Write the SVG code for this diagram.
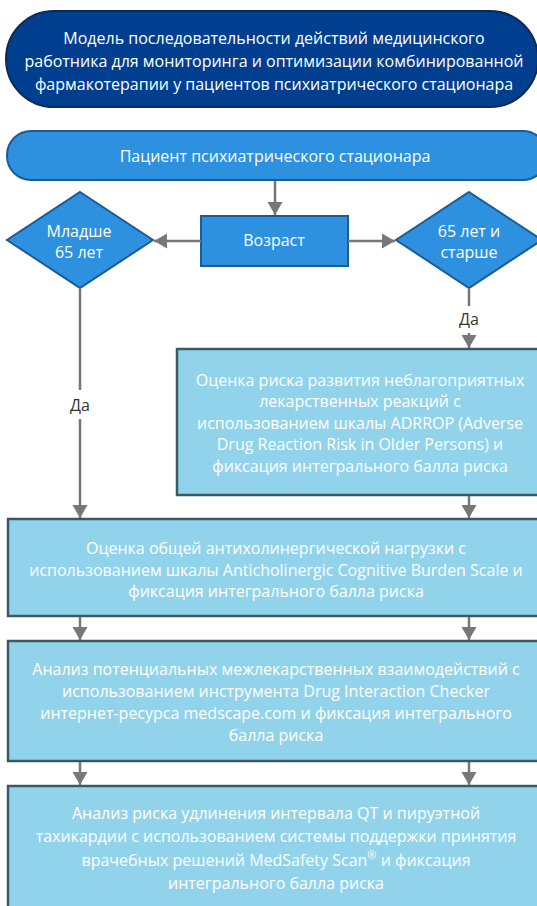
<svg xmlns="http://www.w3.org/2000/svg" width="537" height="906" viewBox="0 0 537 906">
<style>
text{font-family:"Open Sans","Noto Sans","DejaVu Sans",sans-serif;font-size:16px;fill:#ffffff;text-anchor:middle}
.lbl{fill:#333333}
.title{fill:#003f8f;stroke:#0d2a57;stroke-width:2}
.pill{fill:#2d91e0;stroke:#1b5c95;stroke-width:2}
.box{fill:#92d3ec;stroke:#3c5a66;stroke-width:2.5}
.ln{stroke:#777777;stroke-width:2.5;fill:none}
</style>
<defs>
<marker id="ah" markerWidth="16" markerHeight="16" refX="13" refY="7.5" orient="auto" markerUnits="userSpaceOnUse">
<path d="M0,0 L13,7.5 L0,15 Z" fill="#777777"/>
</marker>
</defs>
<rect width="537" height="906" fill="#ffffff"/>
<g id="title">
<rect class="title" x="6" y="11" width="532" height="96" rx="48"/>
<text x="274" y="44">Модель последовательности действий медицинского</text>
<text x="274" y="67">работника для мониторинга и оптимизации комбинированной</text>
<text x="274" y="90">фармакотерапии у пациентов психиатрического стационара</text>
</g>
<g id="patient">
<rect class="pill" x="7" y="131" width="540" height="49" rx="24"/>
<text x="275" y="162">Пациент психиатрического стационара</text>
</g>
<g id="age">
<rect class="pill" x="201" y="216" width="147" height="50"/>
<text x="274" y="246">Возраст</text>
</g>
<g id="young">
<polygon class="pill" points="80,192 153,240 80,288 7,240"/>
<text x="79" y="237">Младше</text>
<text x="79" y="258">65 лет</text>
</g>
<g id="old">
<polygon class="pill" points="469,192 542,240 469,288 396,240"/>
<text x="469" y="237">65 лет и</text>
<text x="469" y="258">старше</text>
</g>
<g id="adrrop">
<rect class="box" x="177" y="349" width="370" height="146"/>
<text x="360" y="385.5">Оценка риска развития неблагоприятных</text>
<text x="360" y="407">лекарственных реакций с</text>
<text x="360" y="428.5">использованием шкалы ADRROP (Adverse</text>
<text x="360" y="450">Drug Reaction Risk in Older Persons) и</text>
<text x="360" y="472">фиксация интегрального балла риска</text>
</g>
<g id="acb">
<rect class="box" x="8" y="519" width="540" height="97"/>
<text x="276" y="553.5">Оценка общей антихолинергической нагрузки с</text>
<text x="276" y="575.5">использованием шкалы Anticholinergic Cognitive Burden Scale и</text>
<text x="276" y="597">фиксация интегрального балла риска</text>
</g>
<g id="ddi">
<rect class="box" x="8" y="641" width="540" height="120"/>
<text x="276" y="675">Анализ потенциальных межлекарственных взаимодействий с</text>
<text x="276" y="697">использованием инструмента Drug Interaction Checker</text>
<text x="276" y="718.5">интернет-ресурса medscape.com и фиксация интегрального</text>
<text x="276" y="740.5">балла риска</text>
</g>
<g id="qt">
<rect class="box" x="8" y="786" width="540" height="130"/>
<text x="276" y="818.5">Анализ риска удлинения интервала QT и пируэтной</text>
<text x="276" y="841.5">тахикардии с использованием системы поддержки принятия</text>
<text x="276" y="865.5">врачебных решений MedSafety Scan<tspan font-size="11" baseline-shift="super">®</tspan> и фиксация</text>
<text x="276" y="888.5">интегрального балла риска</text>
</g>
<g id="connectors">
<line class="ln" x1="275" y1="181" x2="275" y2="215" marker-end="url(#ah)"/>
<line class="ln" x1="201" y1="241" x2="154" y2="241" marker-end="url(#ah)"/>
<line class="ln" x1="348" y1="241" x2="395" y2="241" marker-end="url(#ah)"/>
<line class="ln" x1="469" y1="288" x2="469" y2="306"/>
<text class="lbl" x="469" y="325">Да</text>
<line class="ln" x1="469" y1="333" x2="469" y2="348" marker-end="url(#ah)"/>
<line class="ln" x1="80" y1="288" x2="80" y2="390"/>
<text class="lbl" x="80" y="411">Да</text>
<line class="ln" x1="80" y1="419" x2="80" y2="518" marker-end="url(#ah)"/>
<line class="ln" x1="469" y1="496" x2="469" y2="518" marker-end="url(#ah)"/>
<line class="ln" x1="80" y1="617" x2="80" y2="640" marker-end="url(#ah)"/>
<line class="ln" x1="469" y1="617" x2="469" y2="640" marker-end="url(#ah)"/>
<line class="ln" x1="80" y1="762" x2="80" y2="785" marker-end="url(#ah)"/>
<line class="ln" x1="469" y1="762" x2="469" y2="785" marker-end="url(#ah)"/>
</g>
</svg>
